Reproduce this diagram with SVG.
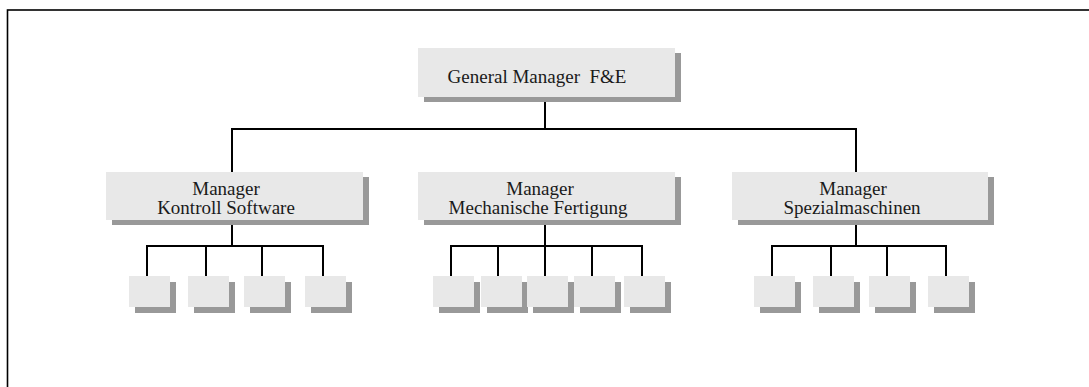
<svg xmlns="http://www.w3.org/2000/svg" width="1089" height="387" viewBox="0 0 1089 387">
  <style>
    .box { fill: #e8e8e8; }
    .shadow { fill: #999999; }
    .lbl { font-family: "Liberation Serif", "Times New Roman", serif; font-size: 19px; fill: #1a1a1a; text-anchor: middle; white-space: pre; }
    .wire { stroke: #000; stroke-width: 2; fill: none; }
  </style>
  <rect width="1089" height="387" fill="#ffffff"/>
  <!-- frame (right and bottom edges run past the canvas) -->
  <rect x="7.5" y="10" width="1100" height="400" fill="none" stroke="#000" stroke-width="1.6"/>

  <g id="connectors">
    <!-- top level -->
    <path class="wire" d="M545 97 V129 M232 172 V129 H856 V172"/>
    <!-- Kontroll Software -->
    <path class="wire" d="M232 219 V246 M147 277 V246 H323 V277 M206 246 V277 M262 246 V277"/>
    <!-- Mechanische Fertigung -->
    <path class="wire" d="M545 220 V246 M451 277 V246 H642 V277 M498 246 V277 M545 246 V277 M592 246 V277"/>
    <!-- Spezialmaschinen -->
    <path class="wire" d="M856 220 V246 M772 277 V246 H946 V277 M831 246 V277 M887 246 V277"/>
  </g>

  <g id="gm">
    <rect class="shadow" x="424" y="53" width="257" height="49"/>
    <rect class="box" x="418" y="48" width="257" height="49"/>
    <text class="lbl" x="537" y="83" xml:space="preserve">General Manager  F&amp;E</text>
  </g>

  <g id="mgr-software">
    <rect class="shadow" x="112" y="177" width="257" height="48"/>
    <rect class="box" x="106" y="172" width="257" height="48"/>
    <text class="lbl" x="226" y="195">Manager</text>
    <text class="lbl" x="226" y="214">Kontroll Software</text>
  </g>

  <g id="mgr-mechanik">
    <rect class="shadow" x="424" y="177" width="257" height="48"/>
    <rect class="box" x="418" y="172" width="257" height="48"/>
    <text class="lbl" x="540" y="195">Manager</text>
    <text class="lbl" x="538" y="214">Mechanische Fertigung</text>
  </g>

  <g id="mgr-spezial">
    <rect class="shadow" x="738" y="177" width="256" height="48"/>
    <rect class="box" x="732" y="172" width="256" height="48"/>
    <text class="lbl" x="853" y="195">Manager</text>
    <text class="lbl" x="852" y="214">Spezialmaschinen</text>
  </g>

  <!-- staff units -->
  <defs>
    <g id="unit">
      <rect class="shadow" x="6" y="6" width="41" height="31"/>
      <rect class="box" x="0" y="0" width="41" height="31"/>
    </g>
  </defs>
  <g id="u-s1"><use href="#unit" x="129" y="276"/></g>
  <g id="u-s2"><use href="#unit" x="188" y="276"/></g>
  <g id="u-s3"><use href="#unit" x="244" y="276"/></g>
  <g id="u-s4"><use href="#unit" x="305" y="276"/></g>

  <g id="u-m1"><use href="#unit" x="433" y="276"/></g>
  <g id="u-m2"><use href="#unit" x="481" y="276"/></g>
  <g id="u-m3"><use href="#unit" x="527" y="276"/></g>
  <g id="u-m4"><use href="#unit" x="574" y="276"/></g>
  <g id="u-m5"><use href="#unit" x="624" y="276"/></g>

  <g id="u-z1"><use href="#unit" x="754" y="276"/></g>
  <g id="u-z2"><use href="#unit" x="813" y="276"/></g>
  <g id="u-z3"><use href="#unit" x="869" y="276"/></g>
  <g id="u-z4"><use href="#unit" x="928" y="276"/></g>
</svg>
